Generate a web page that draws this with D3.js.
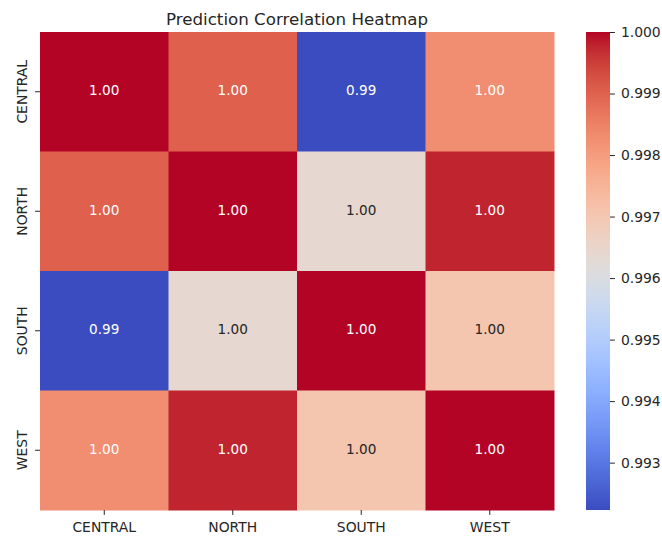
<!DOCTYPE html>
<html>
<head>
<meta charset="utf-8">
<script src="https://cdn.jsdelivr.net/npm/d3@7"></script>
<style>
  body { margin: 0; background: #fff; }
  text { font-family: "DejaVu Sans", sans-serif; }
</style>
</head>
<body>
<svg width="662" height="536"></svg>
<script>
// data
var regions = ["CENTRAL", "NORTH", "SOUTH", "WEST"];
var rowCentral = [1.00000, 0.99903, 0.99223, 0.99829];
var rowNorth   = [0.99903, 1.00000, 0.99638, 0.99977];
var rowSouth   = [0.99223, 0.99638, 1.00000, 0.99705];
var rowWest    = [0.99829, 0.99977, 0.99705, 1.00000];
var cbarTicks = [0.993, 0.994, 0.995, 0.996, 0.997, 0.998, 0.999, 1.000];
var title = "Prediction Correlation Heatmap";

// coolwarm (Moreland) control colours
var coolwarmStops = [
  [59,76,192],[68,90,204],[77,104,215],[87,117,225],[98,130,234],[108,142,241],
  [119,154,247],[130,165,251],[141,176,254],[152,185,255],[163,194,255],[174,201,253],
  [184,208,249],[194,213,244],[204,217,238],[213,219,230],[221,221,221],[229,216,209],
  [236,211,197],[241,204,185],[245,196,173],[247,187,160],[247,177,148],[247,166,135],
  [244,154,123],[241,141,111],[236,127,99],[229,112,88],[222,96,77],[213,80,66],
  [203,62,56],[192,40,47],[180,4,38]
].map(function(c) { return d3.rgb(c[0], c[1], c[2]).toString(); });
var coolwarm = d3.interpolateRgbBasis(coolwarmStops);

var matrix = [rowCentral, rowNorth, rowSouth, rowWest];
var cells = [];
matrix.forEach(function(row, i) {
  row.forEach(function(v, j) { cells.push({row: regions[i], col: regions[j], value: v}); });
});

var vmin = d3.min(cells, function(d) { return d.value; });
var vmax = d3.max(cells, function(d) { return d.value; });
var color = d3.scaleSequential(coolwarm).domain([vmin, vmax]);

var svg = d3.select("svg");
var mLeft = 40, mTop = 32, w = 514, h = 478;
var fs = 13.9;

var x = d3.scaleBand().domain(regions).range([mLeft, mLeft + w]);
var y = d3.scaleBand().domain(regions).range([mTop, mTop + h]);

function lum(c) {
  var rgb = d3.rgb(c);
  var f = function(v) { v /= 255; return v <= 0.03928 ? v / 12.92 : Math.pow((v + 0.055) / 1.055, 2.4); };
  return 0.2126 * f(rgb.r) + 0.7152 * f(rgb.g) + 0.0722 * f(rgb.b);
}

svg.selectAll("rect.cell")
  .data(cells)
  .enter().append("rect")
    .attr("class", "cell")
    .attr("x", function(d) { return x(d.col); })
    .attr("y", function(d) { return y(d.row); })
    .attr("width", x.bandwidth() + 0.5)
    .attr("height", y.bandwidth() + 0.5)
    .attr("fill", function(d) { return color(d.value); });

svg.selectAll("text.annot")
  .data(cells)
  .enter().append("text")
    .attr("class", "annot")
    .attr("x", function(d) { return x(d.col) + x.bandwidth() / 2; })
    .attr("y", function(d) { return y(d.row) + y.bandwidth() / 2; })
    .attr("dy", 3.5)
    .attr("text-anchor", "middle")
    .attr("font-size", 13.6)
    .attr("fill", function(d) { return lum(color(d.value)) > 0.408 ? "#262626" : "#fff"; })
    .text(function(d) { return d.value.toFixed(2); });

// axes
var xAxis = svg.append("g")
  .attr("transform", "translate(0," + (mTop + h) + ")")
  .call(d3.axisBottom(x).tickSize(4.9).tickPadding(5));
var yAxis = svg.append("g")
  .attr("transform", "translate(" + mLeft + ",0)")
  .call(d3.axisLeft(y).tickSize(4.9).tickPadding(5));
[xAxis, yAxis].forEach(function(g) {
  g.select(".domain").remove();
  g.selectAll(".tick line").attr("stroke", "#262626").attr("stroke-width", 1);
  g.selectAll(".tick text").attr("font-size", fs).attr("font-family", "DejaVu Sans").attr("fill", "#262626");
});
xAxis.selectAll(".tick text").attr("y", 21.5).attr("dy", 0);
yAxis.selectAll(".tick text")
  .attr("transform", "rotate(-90)")
  .attr("x", 0).attr("y", -13)
  .attr("dy", "0")
  .attr("text-anchor", "middle");

// title
svg.append("text")
  .attr("x", mLeft + w / 2)
  .attr("y", 24.5)
  .attr("text-anchor", "middle")
  .attr("font-size", 16.7)
  .attr("fill", "#262626")
  .text(title);

// colorbar
var cbX = 586, cbW = 24;
var cbScale = d3.scaleLinear().domain([vmin, vmax]).range([mTop + h, mTop]);
var grad = svg.append("defs").append("linearGradient")
  .attr("id", "cbgrad").attr("x1", 0).attr("y1", 1).attr("x2", 0).attr("y2", 0);
d3.range(0, 1.0001, 1 / 64).forEach(function(t) {
  grad.append("stop").attr("offset", t).attr("stop-color", coolwarm(t));
});
svg.append("rect")
  .attr("x", cbX).attr("y", mTop)
  .attr("width", cbW).attr("height", h)
  .attr("fill", "url(#cbgrad)");
var cbAxis = svg.append("g")
  .attr("transform", "translate(" + (cbX + cbW) + ",0)")
  .call(d3.axisRight(cbScale).tickValues(cbarTicks).tickFormat(d3.format(".3f")).tickSize(4.9).tickPadding(6));
cbAxis.select(".domain").remove();
cbAxis.selectAll(".tick line").attr("stroke", "#262626");
cbAxis.selectAll(".tick text").attr("font-size", fs).attr("font-family", "DejaVu Sans").attr("fill", "#262626");
</script>
</body>
</html>
